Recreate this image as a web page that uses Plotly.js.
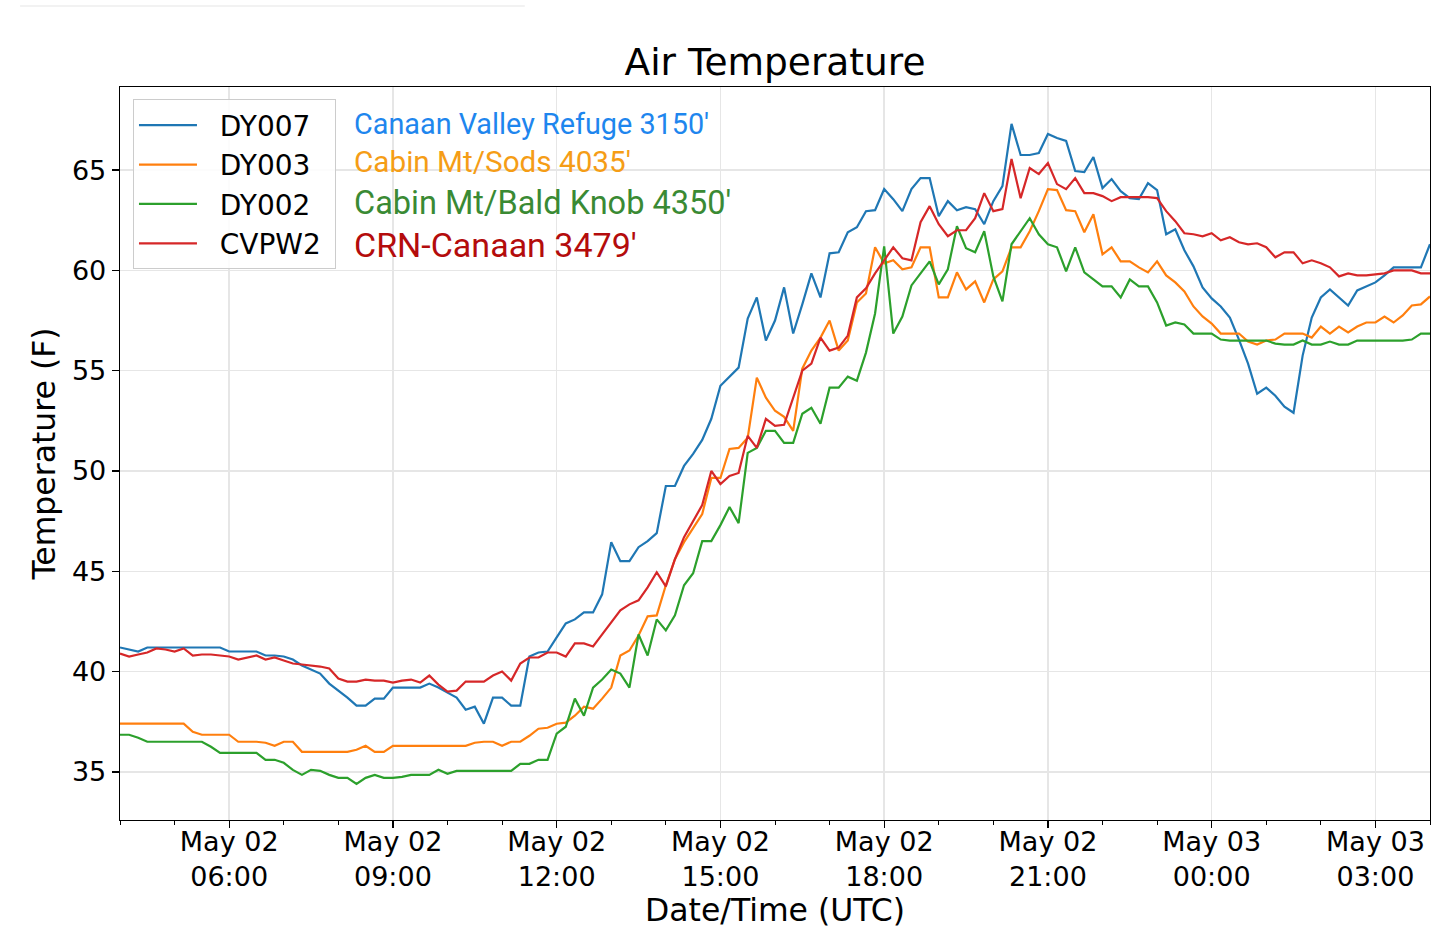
<!DOCTYPE html>
<html>
<head>
<meta charset="utf-8">
<script src="https://cdn.plot.ly/plotly-3.0.1.min.js"></script>
<style>
  html, body { margin: 0; padding: 0; background: #fff; }
  #plot { width: 1440px; height: 947px; }
</style>
</head>
<body>
<div id="plot"></div>
<script>
// 10-minute readings, May 02 04:00 UTC to May 03 04:00 UTC (one row per hour)
const START = '2019-05-02T04:00:00Z';
const STEP_MIN = 10;

const dy007 = [
  41.2, 41.1, 41.0, 41.2, 41.2, 41.2,
  41.2, 41.2, 41.2, 41.2, 41.2, 41.2,
  41.0, 41.0, 41.0, 41.0, 40.8, 40.8,
  40.75, 40.6, 40.3, 40.1, 39.9, 39.4,
  39.05, 38.7, 38.3, 38.3, 38.65, 38.65,
  39.2, 39.2, 39.2, 39.2, 39.4, 39.2,
  38.95, 38.7, 38.1, 38.25, 37.4, 38.7,
  38.7, 38.3, 38.3, 40.75, 40.95, 41.0,
  41.7, 42.4, 42.6, 42.95, 42.95, 43.85,
  46.45, 45.5, 45.5, 46.2, 46.5, 46.9,
  49.25, 49.25, 50.25, 50.85, 51.55, 52.6,
  54.25, 54.7, 55.15, 57.6, 58.65, 56.5,
  57.5, 59.15, 56.85, 58.3, 59.85, 58.65,
  60.85, 60.9, 61.9, 62.15, 62.95, 63.0,
  64.05, 63.55, 62.95, 64.05, 64.6, 64.6,
  62.7, 63.45, 63.0, 63.15, 63.05, 62.3,
  63.45, 64.2, 67.3, 65.75, 65.75, 65.85,
  66.8, 66.6, 66.45, 64.95, 64.9, 65.65,
  64.1, 64.55, 63.95, 63.6, 63.55, 64.35,
  64.0, 61.8, 62.05, 61.0, 60.2, 59.15,
  58.6, 58.2, 57.65, 56.55, 55.35, 53.85,
  54.15, 53.75, 53.2, 52.9, 55.75, 57.65,
  58.65, 59.05, 58.65, 58.25, 59.0, 59.2,
  59.4, 59.75, 60.15, 60.15, 60.15, 60.15,
  61.3
];

const dy003 = [
  37.4, 37.4, 37.4, 37.4, 37.4, 37.4,
  37.4, 37.4, 37.0, 36.85, 36.85, 36.85,
  36.85, 36.5, 36.5, 36.5, 36.45, 36.3,
  36.5, 36.5, 36.0, 36.0, 36.0, 36.0,
  36.0, 36.0, 36.1, 36.3, 36.0, 36.0,
  36.3, 36.3, 36.3, 36.3, 36.3, 36.3,
  36.3, 36.3, 36.3, 36.45, 36.5, 36.5,
  36.3, 36.5, 36.5, 36.8, 37.15, 37.2,
  37.4, 37.45, 37.8, 38.25, 38.15, 38.65,
  39.2, 40.8, 41.05, 41.8, 42.75, 42.8,
  44.3, 45.6, 46.45, 47.15, 47.85, 49.65,
  49.65, 51.1, 51.15, 51.65, 54.65, 53.65,
  53.0, 52.7, 52.0, 55.1, 56.0, 56.65,
  57.5, 56.0, 56.5, 58.4, 58.85, 61.15,
  60.35, 60.5, 60.05, 60.15, 61.15, 61.15,
  58.65, 58.65, 59.9, 59.05, 59.45, 58.4,
  59.55, 59.95, 61.15, 61.15, 61.95, 62.95,
  64.05, 64.0, 63.0, 62.95, 61.9, 62.8,
  60.8, 61.15, 60.45, 60.45, 60.15, 59.9,
  60.45, 59.75, 59.4, 58.95, 58.2, 57.7,
  57.35, 56.85, 56.85, 56.85, 56.45, 56.3,
  56.5, 56.55, 56.85, 56.85, 56.85, 56.65,
  57.2, 56.85, 57.2, 56.9, 57.2, 57.4,
  57.4, 57.7, 57.4, 57.75, 58.25, 58.3,
  58.7
];

const dy002 = [
  36.85, 36.85, 36.7, 36.5, 36.5, 36.5,
  36.5, 36.5, 36.5, 36.5, 36.25, 35.95,
  35.95, 35.95, 35.95, 35.95, 35.6, 35.6,
  35.45, 35.1, 34.85, 35.1, 35.05, 34.85,
  34.7, 34.7, 34.4, 34.7, 34.85, 34.7,
  34.7, 34.75, 34.85, 34.85, 34.85, 35.1,
  34.9, 35.05, 35.05, 35.05, 35.05, 35.05,
  35.05, 35.05, 35.4, 35.4, 35.6, 35.6,
  36.9, 37.25, 38.65, 37.8, 39.2, 39.6,
  40.1, 39.9, 39.2, 41.85, 40.8, 42.6,
  42.05, 42.8, 44.3, 44.9, 46.5, 46.5,
  47.3, 48.2, 47.4, 50.9, 51.15, 52.0,
  52.0, 51.4, 51.4, 52.85, 53.15, 52.35,
  54.15, 54.15, 54.7, 54.5, 55.9, 57.85,
  61.2, 56.85, 57.7, 59.25, 59.85, 60.45,
  59.3, 60.05, 62.2, 61.1, 60.9, 61.95,
  59.7, 58.45, 61.3, 61.95, 62.6, 61.8,
  61.3, 61.15, 59.95, 61.15, 59.9, 59.55,
  59.2, 59.2, 58.65, 59.55, 59.2, 59.2,
  58.4, 57.25, 57.4, 57.3, 56.85, 56.85,
  56.85, 56.55, 56.5, 56.5, 56.5, 56.5,
  56.5, 56.35, 56.3, 56.3, 56.5, 56.3,
  56.3, 56.45, 56.3, 56.3, 56.5, 56.5,
  56.5, 56.5, 56.5, 56.5, 56.55, 56.85,
  56.85
];

const cvpw2 = [
  40.9, 40.75, 40.85, 40.95, 41.15, 41.1,
  41.0, 41.15, 40.8, 40.85, 40.85, 40.8,
  40.75, 40.6, 40.7, 40.8, 40.6, 40.7,
  40.55, 40.4, 40.35, 40.3, 40.25, 40.15,
  39.65, 39.5, 39.5, 39.6, 39.55, 39.55,
  39.45, 39.55, 39.6, 39.45, 39.8, 39.35,
  39.0, 39.05, 39.5, 39.5, 39.5, 39.8,
  40.0, 39.55, 40.4, 40.7, 40.7, 40.95,
  40.95, 40.75, 41.4, 41.4, 41.25, 41.85,
  42.45, 43.05, 43.35, 43.55, 44.2, 44.95,
  44.25, 45.6, 46.7, 47.5, 48.3, 50.0,
  49.35, 49.75, 49.9, 51.75, 51.15, 52.6,
  52.25, 52.3, 53.6, 55.0, 55.35, 56.65,
  56.0, 56.15, 56.75, 58.65, 59.1, 59.85,
  60.5, 61.15, 60.6, 60.5, 62.4, 63.2,
  62.3, 61.7, 62.0, 62.0, 62.6, 63.85,
  62.95, 63.05, 65.55, 63.6, 65.1, 64.8,
  65.35, 64.3, 64.05, 64.6, 63.85, 63.85,
  63.7, 63.45, 63.65, 63.65, 63.65, 63.65,
  63.6, 62.95, 62.45, 61.85, 61.8, 61.7,
  61.85, 61.5, 61.65, 61.4, 61.3, 61.35,
  61.15, 60.65, 60.9, 60.9, 60.35, 60.5,
  60.35, 60.15, 59.7, 59.85, 59.75, 59.75,
  59.8, 59.85, 60.0, 60.0, 60.0, 59.85,
  59.85
];

const stationIds = ['DY007', 'DY003', 'DY002', 'CVPW2'];
const stationNames = ["Canaan Valley Refuge 3150'", "Cabin Mt/Sods 4035'", "Cabin Mt/Bald Knob 4350'", "CRN-Canaan 3479'"];
const lineColors = ['#1f77b4', '#ff7f0e', '#2ca02c', '#d62728'];
const nameColors = ['#1e86ee', '#f59d16', '#3a8a34', '#b40c0c'];

const tickDates = ['2019-05-02 06:00', '2019-05-02 09:00', '2019-05-02 12:00', '2019-05-02 15:00',
                   '2019-05-02 18:00', '2019-05-02 21:00', '2019-05-03 00:00', '2019-05-03 03:00'];
const tickLabels = ['May 02<br>06:00', 'May 02<br>09:00', 'May 02<br>12:00', 'May 02<br>15:00',
                    'May 02<br>18:00', 'May 02<br>21:00', 'May 03<br>00:00', 'May 03<br>03:00'];
const yTicks = [35, 40, 45, 50, 55, 60, 65];

function pad2(n) { return (n < 10 ? '0' : '') + n; }

// sample times for a series of n readings
function sampleTimes(n) {
  const t0 = Date.parse(START);
  const out = [];
  for (let i = 0; i < n; i++) {
    const d = new Date(t0 + i * STEP_MIN * 60000);
    out.push(d.getUTCFullYear() + '-' + pad2(d.getUTCMonth() + 1) + '-' + pad2(d.getUTCDate()) +
             ' ' + pad2(d.getUTCHours()) + ':' + pad2(d.getUTCMinutes()));
  }
  return out;
}

const FONT = 'DejaVu Sans, Arial, sans-serif';
const series = [dy007, dy003, dy002, cvpw2];

const data = series.map((vals, k) => ({
  x: sampleTimes(vals.length),
  y: vals,
  // non-breaking spaces widen the gap between legend line and label
  name: '\u00a0\u00a0' + stationIds[k] + '\u00a0',
  type: 'scatter',
  mode: 'lines',
  line: { color: lineColors[k], width: 2.2 },
  hoverinfo: 'skip',
}));

const annotations = stationNames.map((txt, k) => ({
  text: txt,
  xref: 'paper', yref: 'paper',
  x: 0.177, y: [0.9495, 0.899, 0.8417, 0.7844][k],
  xanchor: 'left', yanchor: 'middle',
  showarrow: false,
  font: { family: 'Roboto, sans-serif', size: [28.8, 29.7, 32.5, 34][k], color: nameColors[k] },
}));

const layout = {
  width: 1440,
  height: 947,
  margin: { l: 120, r: 10, t: 87, b: 127 },
  paper_bgcolor: '#ffffff',
  plot_bgcolor: '#ffffff',
  font: { family: FONT, color: '#000000' },
  title: {
    text: 'Air Temperature',
    font: { family: FONT, size: 37.5, color: '#000000' },
    xref: 'paper', x: 0.5, xanchor: 'center',
    yref: 'container', y: 1 - 62 / 947, yanchor: 'middle',
  },
  xaxis: {
    type: 'date',
    range: ['2019-05-02 04:00', '2019-05-03 04:00'],
    tickmode: 'array',
    tickvals: tickDates,
    ticktext: tickLabels,
    tickfont: { family: FONT, size: 27, color: '#000000' },
    ticklabelstandoff: -10,
    ticks: 'outside', ticklen: 7, tickwidth: 1.3, tickcolor: '#000000',
    minor: { tickmode: 'linear', tick0: '2019-05-02 04:00', dtick: 3600000,
             ticks: 'outside', ticklen: 4, tickwidth: 1, tickcolor: '#000000', showgrid: false },
    showgrid: true, gridcolor: '#e6e6e6', gridwidth: 1.5,
    showline: true, linecolor: '#000000', linewidth: 1.3, mirror: true,
    zeroline: false,
    title: { text: 'Date/Time (UTC)', font: { family: FONT, size: 31.5, color: '#000000' }, standoff: 2 },
  },
  yaxis: {
    range: [32.6, 69.14],
    tickmode: 'array',
    tickvals: yTicks,
    ticktext: yTicks.map(String),
    tickfont: { family: FONT, size: 27, color: '#000000' },
    ticks: 'outside', ticklen: 7, tickwidth: 1.3, tickcolor: '#000000',
    showgrid: true, gridcolor: '#e6e6e6', gridwidth: 1.5,
    showline: true, linecolor: '#000000', linewidth: 1.3, mirror: true,
    zeroline: false,
    title: { text: 'Temperature (F)', font: { family: FONT, size: 31.5, color: '#000000' }, standoff: 7 },
  },
  showlegend: true,
  legend: {
    x: 0.0099, y: 0.983, xanchor: 'left', yanchor: 'top',
    bgcolor: 'rgba(255,255,255,0.85)',
    bordercolor: '#cccccc', borderwidth: 1,
    font: { family: FONT, size: 28, color: '#000000' },
    itemwidth: 58,
    tracegroupgap: 0,
  },
  annotations: annotations,
  shapes: [{
    type: 'line', xref: 'paper', yref: 'paper',
    x0: -0.0763, x1: 0.309, y0: 1.1105, y1: 1.1105,
    line: { color: '#eeeeee', width: 1.5 },
  }],
};

Plotly.newPlot('plot', data, layout, { displayModeBar: false, staticPlot: true });
</script>
</body>
</html>
